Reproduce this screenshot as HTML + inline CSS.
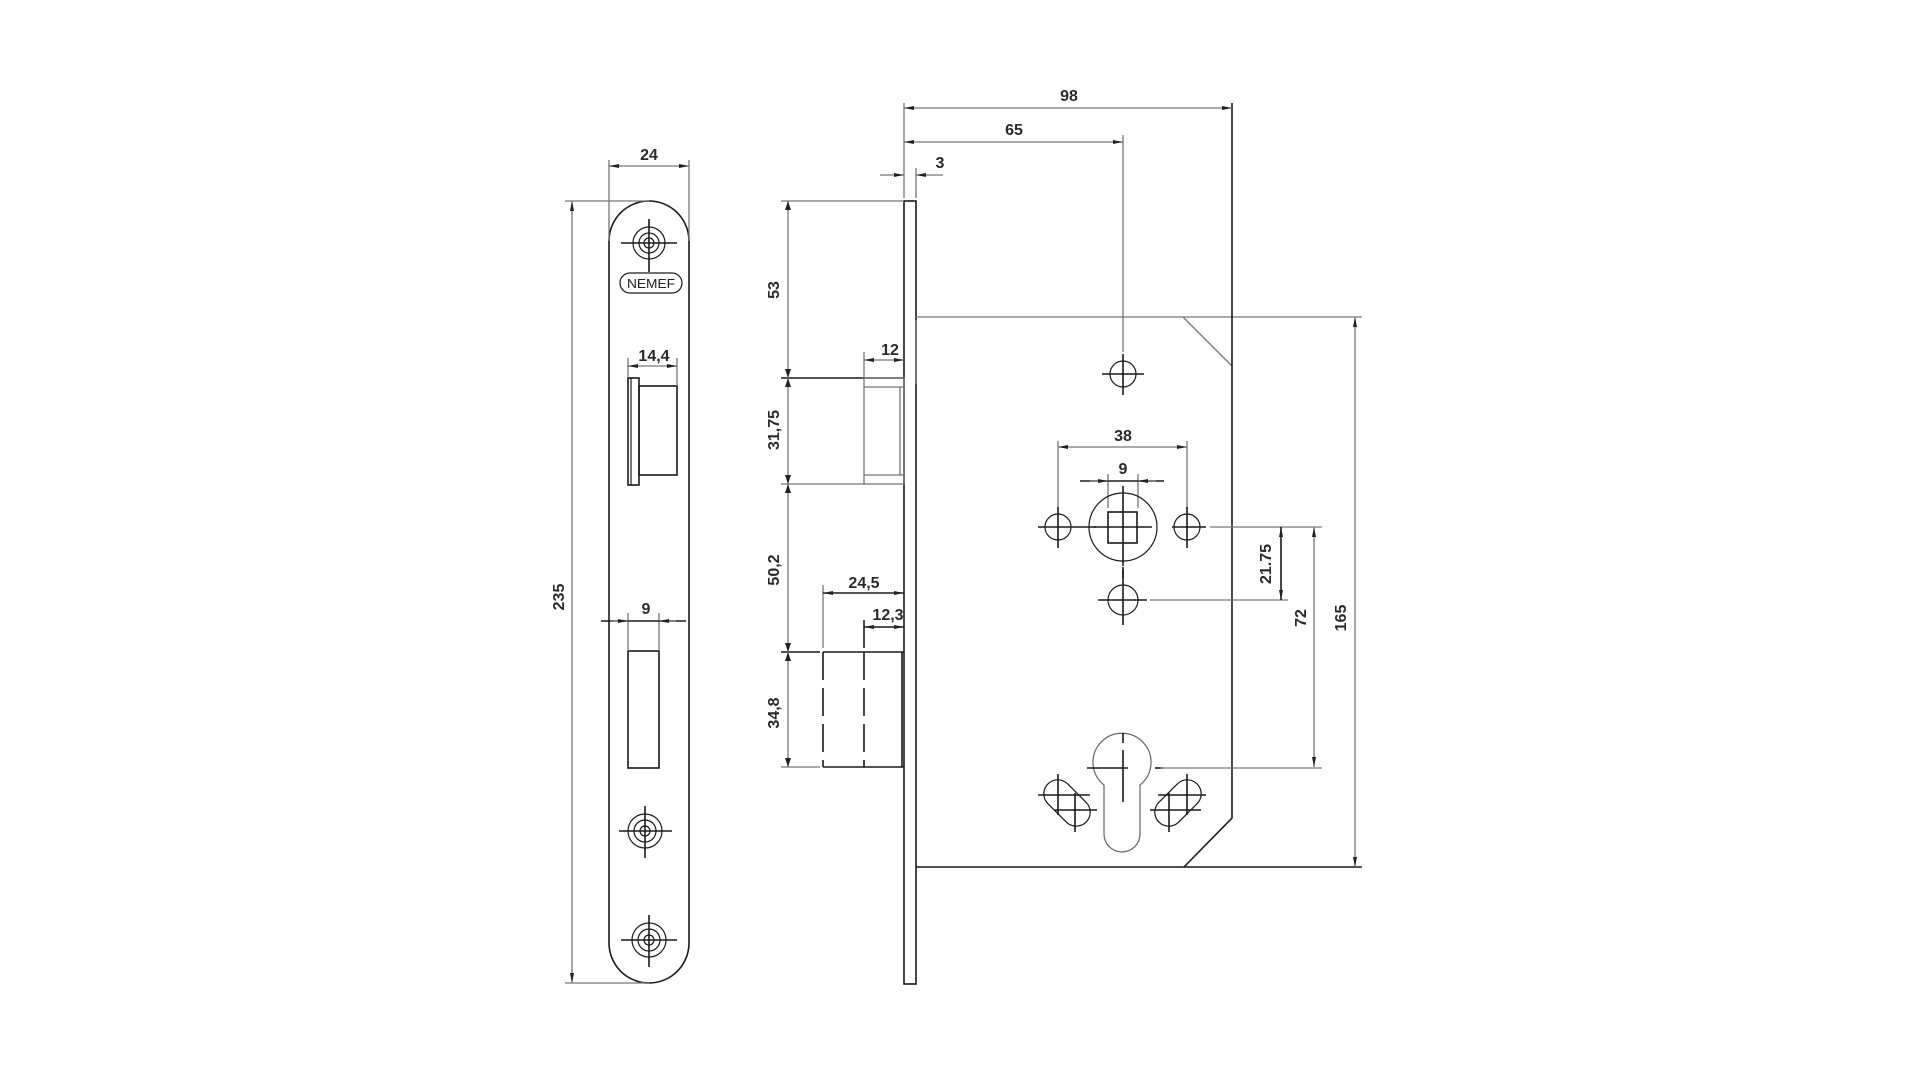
<!DOCTYPE html>
<html><head><meta charset="utf-8"><style>
html,body{margin:0;padding:0;background:#fff;width:1920px;height:1080px;overflow:hidden}
svg{display:block}
text{font-family:"Liberation Sans",Arial,sans-serif;font-weight:bold;font-size:16px;fill:#2a2a2a}
.k{stroke:#1a1a1a;stroke-width:1.6;fill:none}
.g{stroke:#777;stroke-width:1.3;fill:none}
.t{stroke:#1a1a1a;stroke-width:1.2;fill:none}
</style></head><body>
<svg width="1920" height="1080" viewBox="0 0 1920 1080">
<defs>
<marker id="a" viewBox="0 0 10 6" refX="10" refY="3" markerWidth="10" markerHeight="6" orient="auto-start-reverse" markerUnits="userSpaceOnUse"><path d="M0,1 L10,3 L0,5z" fill="#222"/></marker>
</defs>

<path class="k" d="M609,241 A40,40 0 0 1 689,241 L689,943 A40,40 0 0 1 609,943 Z"/>
<line class="g" x1="609" y1="160" x2="609" y2="241"/>
<line class="g" x1="689" y1="160" x2="689" y2="241"/>
<line class="g" x1="609" y1="166" x2="689" y2="166" marker-start="url(#a)" marker-end="url(#a)"/>
<text x="649" y="160" text-anchor="middle">24</text>
<line class="g" x1="565" y1="201" x2="649" y2="201"/>
<line class="g" x1="565" y1="983" x2="649" y2="983"/>
<line class="g" x1="572" y1="201" x2="572" y2="983" marker-start="url(#a)" marker-end="url(#a)"/>
<text transform="translate(564,597) rotate(-90)" text-anchor="middle">235</text>
<g>
<circle class="t" cx="649" cy="243" r="16"/><circle class="t" cx="649" cy="243" r="10"/><circle class="t" cx="649" cy="243" r="5"/>
<line class="k" x1="621" y1="243" x2="677" y2="243"/><line class="k" x1="649" y1="219" x2="649" y2="272"/>
</g>
<rect class="t" x="620" y="273" width="62" height="20" rx="10"/>
<text x="651" y="288" text-anchor="middle" textLength="48" lengthAdjust="spacingAndGlyphs" style="font-size:13px;font-weight:normal;fill:#222">NEMEF</text>
<rect class="k" x="628" y="378" width="11" height="107"/>
<line class="t" x1="631" y1="378" x2="631" y2="485"/>
<rect class="k" x="639" y="386" width="38" height="89"/>
<line class="g" x1="628" y1="358" x2="628" y2="378"/>
<line class="g" x1="677" y1="358" x2="677" y2="386"/>
<line class="g" x1="628" y1="366" x2="677" y2="366" marker-start="url(#a)" marker-end="url(#a)"/>
<text x="654" y="361" text-anchor="middle">14,4</text>
<rect class="k" x="628" y="651" width="31" height="117"/>
<line class="g" x1="628" y1="613" x2="628" y2="651"/>
<line class="g" x1="659" y1="613" x2="659" y2="651"/>
<line class="k" x1="601" y1="621" x2="686" y2="621"/>
<line class="g" x1="611" y1="621" x2="628" y2="621" marker-end="url(#a)"/>
<line class="g" x1="676" y1="621" x2="659" y2="621" marker-end="url(#a)"/>
<text x="646" y="614" text-anchor="middle">9</text>
<g>
<circle class="t" cx="645" cy="831" r="17"/><circle class="t" cx="645" cy="831" r="11"/><circle class="t" cx="645" cy="831" r="5"/>
<line class="k" x1="619" y1="831" x2="672" y2="831"/><line class="k" x1="645" y1="806" x2="645" y2="858"/>
</g>
<g>
<circle class="t" cx="649" cy="940" r="17"/><circle class="t" cx="649" cy="940" r="11"/><circle class="t" cx="649" cy="940" r="5"/>
<line class="k" x1="621" y1="940" x2="677" y2="940"/><line class="k" x1="649" y1="915" x2="649" y2="967"/>
</g>

<rect class="k" x="904" y="201" width="12" height="783"/>
<path class="k" d="M916,867 L1184,867 L1232,818 L1232,366"/>
<line class="g" x1="916" y1="317" x2="1362" y2="317"/>
<line class="g" x1="1183" y1="317" x2="1232" y2="366"/>
<line class="k" x1="1184" y1="867" x2="1362" y2="867"/>
<line class="k" x1="1232" y1="103" x2="1232" y2="366"/>
<line class="g" x1="916" y1="320" x2="916" y2="384"/>
<line class="g" x1="904" y1="103" x2="904" y2="198"/>
<line class="g" x1="904" y1="108" x2="1232" y2="108" marker-start="url(#a)" marker-end="url(#a)"/>
<text x="1069" y="101" text-anchor="middle">98</text>
<line class="g" x1="904" y1="142" x2="1123" y2="142" marker-start="url(#a)" marker-end="url(#a)"/>
<line class="g" x1="1123" y1="135" x2="1123" y2="352"/>
<text x="1014" y="135" text-anchor="middle">65</text>
<line class="g" x1="916" y1="168" x2="916" y2="198"/>
<line class="g" x1="880" y1="175" x2="904" y2="175" marker-end="url(#a)"/>
<line class="g" x1="943" y1="175" x2="916" y2="175" marker-end="url(#a)"/>
<text x="940" y="168" text-anchor="middle">3</text>
<circle class="t" cx="1123" cy="374" r="13"/>
<line class="k" x1="1102" y1="374" x2="1144" y2="374"/><line class="k" x1="1123" y1="354" x2="1123" y2="395"/>
<line class="g" x1="1058" y1="441" x2="1058" y2="508"/>
<line class="g" x1="1187" y1="441" x2="1187" y2="508"/>
<line class="g" x1="1058" y1="447" x2="1187" y2="447" marker-start="url(#a)" marker-end="url(#a)"/>
<text x="1123" y="441" text-anchor="middle">38</text>
<line class="g" x1="1108" y1="474" x2="1108" y2="508"/>
<line class="g" x1="1138" y1="474" x2="1138" y2="508"/>
<line class="k" x1="1080" y1="481" x2="1164" y2="481"/>
<line class="g" x1="1090" y1="481" x2="1108" y2="481" marker-end="url(#a)"/>
<line class="g" x1="1156" y1="481" x2="1138" y2="481" marker-end="url(#a)"/>
<text x="1123" y="474" text-anchor="middle">9</text>
<circle class="t" cx="1123" cy="527" r="34"/>
<rect class="k" x="1108" y="512" width="29" height="31"/>
<line class="k" x1="1123" y1="486" x2="1123" y2="566"/>
<line class="k" x1="1094" y1="527" x2="1152" y2="527"/>
<line class="k" x1="1123" y1="570" x2="1123" y2="578"/>
<circle class="t" cx="1058" cy="527" r="13"/>
<line class="k" x1="1038" y1="527" x2="1096" y2="527"/><line class="k" x1="1058" y1="507" x2="1058" y2="548"/>
<circle class="t" cx="1187" cy="527" r="13"/>
<line class="k" x1="1172" y1="527" x2="1206" y2="527"/><line class="k" x1="1187" y1="507" x2="1187" y2="548"/>
<line class="g" x1="1210" y1="527" x2="1322" y2="527"/>
<circle class="t" cx="1123" cy="600" r="15"/>
<line class="k" x1="1098" y1="600" x2="1147" y2="600"/><line class="k" x1="1123" y1="567" x2="1123" y2="625"/>
<line class="g" x1="1150" y1="600" x2="1288" y2="600"/>
<line class="k" x1="1281" y1="527" x2="1281" y2="600" marker-start="url(#a)" marker-end="url(#a)"/>
<text transform="translate(1271,564) rotate(-90)" text-anchor="middle">21.75</text>
<line class="g" x1="1314" y1="527" x2="1314" y2="767" marker-start="url(#a)" marker-end="url(#a)"/>
<text transform="translate(1306,618) rotate(-90)" text-anchor="middle">72</text>
<line class="g" x1="1355" y1="317" x2="1355" y2="867" marker-start="url(#a)" marker-end="url(#a)"/>
<text transform="translate(1346,618) rotate(-90)" text-anchor="middle">165</text>
<path class="t" d="M1104,785 A29,29 0 1 1 1140,785 L1140,834 A18,18 0 0 1 1104,834 Z" style="stroke:#666"/>
<line class="k" x1="1087" y1="768" x2="1128" y2="768"/>
<line class="k" x1="1123" y1="733" x2="1123" y2="743"/>
<line class="k" x1="1123" y1="750" x2="1123" y2="802"/>
<line class="k" x1="1155" y1="768" x2="1163" y2="768"/>
<line class="g" x1="1160" y1="768" x2="1322" y2="768"/>
<g transform="translate(1067,803) rotate(45)"><rect class="t" x="-27" y="-14" width="54" height="28" rx="14"/></g>
<line class="k" x1="1038" y1="795" x2="1090" y2="795"/><line class="k" x1="1055" y1="810" x2="1097" y2="810"/>
<line class="k" x1="1058" y1="774" x2="1058" y2="815"/><line class="k" x1="1075" y1="793" x2="1075" y2="832"/>
<g transform="translate(1178,803) rotate(-45)"><rect class="t" x="-27" y="-14" width="54" height="28" rx="14"/></g>
<line class="k" x1="1150" y1="810" x2="1201" y2="810"/><line class="k" x1="1158" y1="795" x2="1206" y2="795"/>
<line class="k" x1="1187" y1="774" x2="1187" y2="815"/><line class="k" x1="1169" y1="793" x2="1169" y2="832"/>

<line class="k" x1="781" y1="378" x2="904" y2="378"/>
<rect class="g" x="864" y="378" width="40" height="106"/>
<line class="g" x1="864" y1="387" x2="904" y2="387"/>
<line class="g" x1="864" y1="475" x2="904" y2="475"/>
<line class="g" x1="900" y1="387" x2="900" y2="475"/>
<line class="g" x1="781" y1="484" x2="864" y2="484"/>
<line class="g" x1="864" y1="352" x2="864" y2="378"/>
<line class="g" x1="864" y1="360" x2="904" y2="360" marker-start="url(#a)" marker-end="url(#a)"/>
<text x="890" y="355" text-anchor="middle">12</text>
<line class="k" x1="823" y1="652" x2="904" y2="652"/>
<line class="k" x1="823" y1="767" x2="904" y2="767"/>
<line class="k" x1="902" y1="652" x2="902" y2="767"/>
<line class="k" x1="823" y1="652" x2="823" y2="767" stroke-dasharray="28,8"/>
<line class="k" x1="864" y1="652" x2="864" y2="767" stroke-dasharray="28,8"/>
<line class="k" x1="781" y1="652" x2="820" y2="652"/>
<line class="g" x1="781" y1="767" x2="820" y2="767"/>
<line class="g" x1="823" y1="585" x2="823" y2="648"/>
<line class="k" x1="823" y1="593" x2="904" y2="593" marker-start="url(#a)" marker-end="url(#a)"/>
<text x="864" y="588" text-anchor="middle">24,5</text>
<line class="k" x1="864" y1="620" x2="864" y2="648"/>
<line class="k" x1="864" y1="627" x2="904" y2="627" marker-start="url(#a)" marker-end="url(#a)"/>
<text x="888" y="620" text-anchor="middle">12,3</text>
<line class="g" x1="781" y1="201" x2="904" y2="201"/>
<line class="g" x1="788" y1="201" x2="788" y2="767"/>
<path d="M785,210 L788,201 L791,210z M785,369 L788,378 L791,369z M785,387 L788,378 L791,387z M785,475 L788,484 L791,475z M785,493 L788,484 L791,493z M785,643 L788,652 L791,643z M785,661 L788,652 L791,661z M785,758 L788,767 L791,758z" fill="#222"/>
<text transform="translate(779,290) rotate(-90)" text-anchor="middle">53</text>
<text transform="translate(779,430) rotate(-90)" text-anchor="middle">31,75</text>
<text transform="translate(779,570) rotate(-90)" text-anchor="middle">50,2</text>
<text transform="translate(779,713) rotate(-90)" text-anchor="middle">34,8</text>
</svg>
</body></html>
